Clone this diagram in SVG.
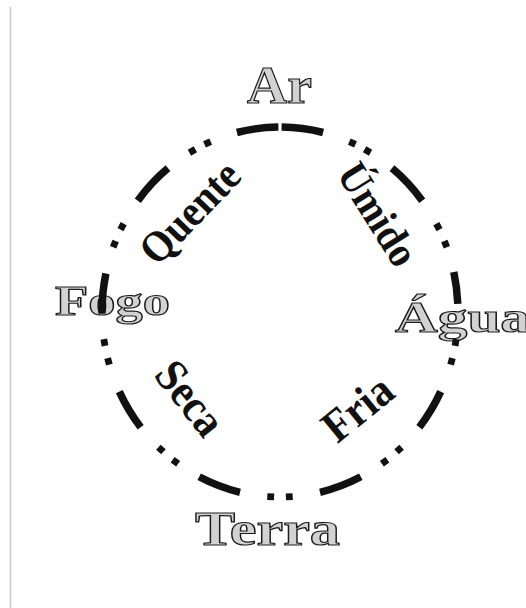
<svg xmlns="http://www.w3.org/2000/svg" width="526" height="608" viewBox="0 0 526 608">
<style>
.el{font-family:"Liberation Serif","Times New Roman",serif;font-weight:bold;fill:#d2d2d2;stroke:#1a1a1a;stroke-width:1.2;}
.ql{font-family:"Liberation Serif","Times New Roman",serif;font-weight:bold;fill:#111;text-anchor:middle;}
.dash{fill:none;stroke:#111;stroke-width:7.5;stroke-linecap:butt;}
.dot{fill:#111;}
</style>
<rect width="526" height="608" fill="#fff"/>
<line x1="10.5" y1="7" x2="10.5" y2="608" stroke="#c8c8c8" stroke-width="1.5"/>
<g id="ar"><text class="el" x="247" y="103" font-size="53" textLength="65" lengthAdjust="spacingAndGlyphs">Ar</text></g>
<g id="fogo"><text class="el" x="55" y="315" font-size="43" textLength="115" lengthAdjust="spacingAndGlyphs">Fogo</text></g>
<g id="agua"><text class="el" x="395" y="332" font-size="45" textLength="135" lengthAdjust="spacingAndGlyphs">Água</text></g>
<g id="terra"><text class="el" x="195" y="545" font-size="49" textLength="145" lengthAdjust="spacingAndGlyphs">Terra</text></g>
<g id="quente"><text class="ql" transform="translate(191.7,214.4) rotate(-46)" x="0" y="12" font-size="44" textLength="124" lengthAdjust="spacingAndGlyphs">Quente</text></g>
<g id="umido"><text class="ql" transform="translate(376,215.5) rotate(58)" x="0" y="12" font-size="43" textLength="113" lengthAdjust="spacingAndGlyphs">Úmido</text></g>
<g id="seca"><text class="ql" transform="translate(188.5,399.5) rotate(51.5)" x="0" y="13" font-size="46" textLength="82" lengthAdjust="spacingAndGlyphs">Seca</text></g>
<g id="fria"><text class="ql" transform="translate(359,410) rotate(-39)" x="0" y="13" font-size="46" textLength="77" lengthAdjust="spacingAndGlyphs">Fria</text></g>
<g id="connectors">
<path class="dash" d="M281.6,127.0 A178,185 0 0 1 323.1,132.5"/>
<path class="dash" d="M392.0,168.2 A178,185 0 0 1 422.2,200.7"/>
<path class="dash" d="M453.8,272.0 A178,185 0 0 1 457.8,303.9"/>
<path class="dash" d="M440.7,391.6 A178,185 0 0 1 419.3,427.2"/>
<path class="dash" d="M360.8,476.8 A178,185 0 0 1 320.0,492.3"/>
<path class="dash" d="M236.9,132.5 A178,185 0 0 1 278.4,127.0"/>
<path class="dash" d="M137.8,200.7 A178,185 0 0 1 168.0,168.2"/>
<path class="dash" d="M102.0,313.6 A178,185 0 0 1 105.9,273.5"/>
<path class="dash" d="M140.7,427.2 A178,185 0 0 1 119.3,391.6"/>
<path class="dash" d="M240.0,492.3 A178,185 0 0 1 199.2,476.8"/>
<rect class="dot" x="-3.4" y="-3.4" width="6.8" height="6.8" transform="translate(352.4,143.0) rotate(-66)"/>
<rect class="dot" x="-3.4" y="-3.4" width="6.8" height="6.8" transform="translate(367.6,151.0) rotate(-60.5)"/>
<rect class="dot" x="-3.4" y="-3.4" width="6.8" height="6.8" transform="translate(437.9,226.6) rotate(-27.5)"/>
<rect class="dot" x="-3.4" y="-3.4" width="6.8" height="6.8" transform="translate(445.6,244.2) rotate(-21.5)"/>
<rect class="dot" x="-3.4" y="-3.4" width="6.8" height="6.8" transform="translate(455.6,342.5) rotate(9.5)"/>
<rect class="dot" x="-3.4" y="-3.4" width="6.8" height="6.8" transform="translate(451.5,361.4) rotate(15.5)"/>
<rect class="dot" x="-3.4" y="-3.4" width="6.8" height="6.8" transform="translate(399.1,449.5) rotate(48)"/>
<rect class="dot" x="-3.4" y="-3.4" width="6.8" height="6.8" transform="translate(384.6,461.7) rotate(54)"/>
<rect class="dot" x="-3.4" y="-3.4" width="6.8" height="6.8" transform="translate(289.3,496.7) rotate(87)"/>
<rect class="dot" x="-3.4" y="-3.4" width="6.8" height="6.8" transform="translate(207.6,143.0) rotate(-114)"/>
<rect class="dot" x="-3.4" y="-3.4" width="6.8" height="6.8" transform="translate(192.4,151.0) rotate(-119.5)"/>
<rect class="dot" x="-3.4" y="-3.4" width="6.8" height="6.8" transform="translate(122.1,226.6) rotate(-152.5)"/>
<rect class="dot" x="-3.4" y="-3.4" width="6.8" height="6.8" transform="translate(114.4,244.2) rotate(-158.5)"/>
<rect class="dot" x="-3.4" y="-3.4" width="6.8" height="6.8" transform="translate(104.4,342.5) rotate(-189.5)"/>
<rect class="dot" x="-3.4" y="-3.4" width="6.8" height="6.8" transform="translate(108.5,361.4) rotate(-195.5)"/>
<rect class="dot" x="-3.4" y="-3.4" width="6.8" height="6.8" transform="translate(160.9,449.5) rotate(-228)"/>
<rect class="dot" x="-3.4" y="-3.4" width="6.8" height="6.8" transform="translate(175.4,461.7) rotate(-234)"/>
<rect class="dot" x="-3.4" y="-3.4" width="6.8" height="6.8" transform="translate(270.7,496.7) rotate(-267)"/>
</g>
</svg>
